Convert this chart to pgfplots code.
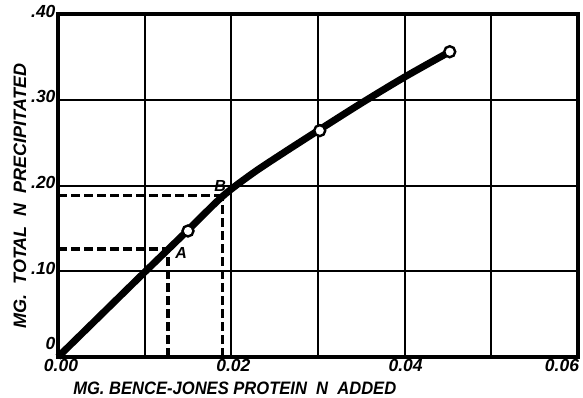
\documentclass[border=0pt]{standalone}
\usepackage{fontspec}
\setmainfont{Liberation Sans}
\usepackage{graphicx}
\usepackage{pgfplots}
\pgfplotsset{compat=1.18}
\begin{document}
\begin{tikzpicture}
\begin{axis}[name=ax, scale only axis, width=520pt, height=343pt,
  xmin=0, xmax=0.06, ymin=0, ymax=0.40,
  scaled ticks=false,
  xtick={0,0.01,0.02,0.03,0.04,0.05,0.06},
  xticklabels={\hspace*{6pt}0.00,,\hspace*{4pt}0.02,,\hspace*{2pt}0.04,,\hspace*{-32pt}0.06},
  ytick={0,0.1,0.2,0.3,0.4},
  yticklabels={\raisebox{5pt}[0pt][0pt]{0},.10,.20,.30,\raisebox{-4pt}{.40}},
  grid=major, major grid style={black, line width=2pt},
  major tick length=0pt,
  axis line style={line width=4.5pt},
  tick label style={font=\fontsize{17.5}{17.5}\selectfont\bfseries\itshape},
  /pgf/number format/assume math mode=true,
  xticklabel style={yshift=1pt},
  yticklabel style={xshift=1pt, yshift=3pt},
  xlabel={\scalebox{0.92}[1]{MG.\ BENCE-JONES PROTEIN\ \ N\ \ ADDED}},
  ylabel={MG.\ \ TOTAL\ \ N\ \ PRECIPITATED},
  xlabel style={font=\fontsize{18}{18}\selectfont\bfseries\itshape, at={(axis description cs:0.34,-0.090)}, anchor=center},
  ylabel style={font=\fontsize{18}{18}\selectfont\bfseries\itshape, at={(axis description cs:-0.073,0.469)}, anchor=center},
  clip=false,
]
\addplot[black, line width=3.2pt, dash pattern=on 9pt off 4pt] coordinates {(0,0.126)(0.0127,0.126)};
\addplot[black, line width=3.2pt, dash pattern=on 9pt off 4pt] coordinates {(0.0127,0)(0.0127,0.126)};
\addplot[black, line width=3.2pt, dash pattern=on 9pt off 4pt] coordinates {(0,0.188)(0.0190,0.188)};
\addplot[black, line width=3.2pt, dash pattern=on 9pt off 4pt] coordinates {(0.0190,0)(0.0190,0.188)};
\addplot[black, line width=7pt, smooth] coordinates {
  (0,0)(0.005,0.0495)(0.010,0.099)(0.015,0.148)(0.019,0.1875)(0.0225,0.2145)
  (0.026,0.238)(0.030,0.264)(0.035,0.296)(0.040,0.3265)(0.0452,0.356)};
\addplot[only marks, mark=*, mark size=5.5pt, mark options={draw=black, fill=white, line width=2.4pt}] coordinates {
  (0.0150,0.147)(0.0302,0.264)(0.0452,0.356)};
\node[font=\fontsize{16}{16}\selectfont\bfseries\itshape] at (axis cs:0.0142,0.121) {A};
\node[font=\fontsize{16}{16}\selectfont\bfseries\itshape] at (axis cs:0.0187,0.200) {B};
\end{axis}
\pgfresetboundingbox
\path ([shift={(-58pt,-40pt)}]ax.south west) rectangle ([shift={(5pt,14pt)}]ax.north east);
\end{tikzpicture}
\end{document}
